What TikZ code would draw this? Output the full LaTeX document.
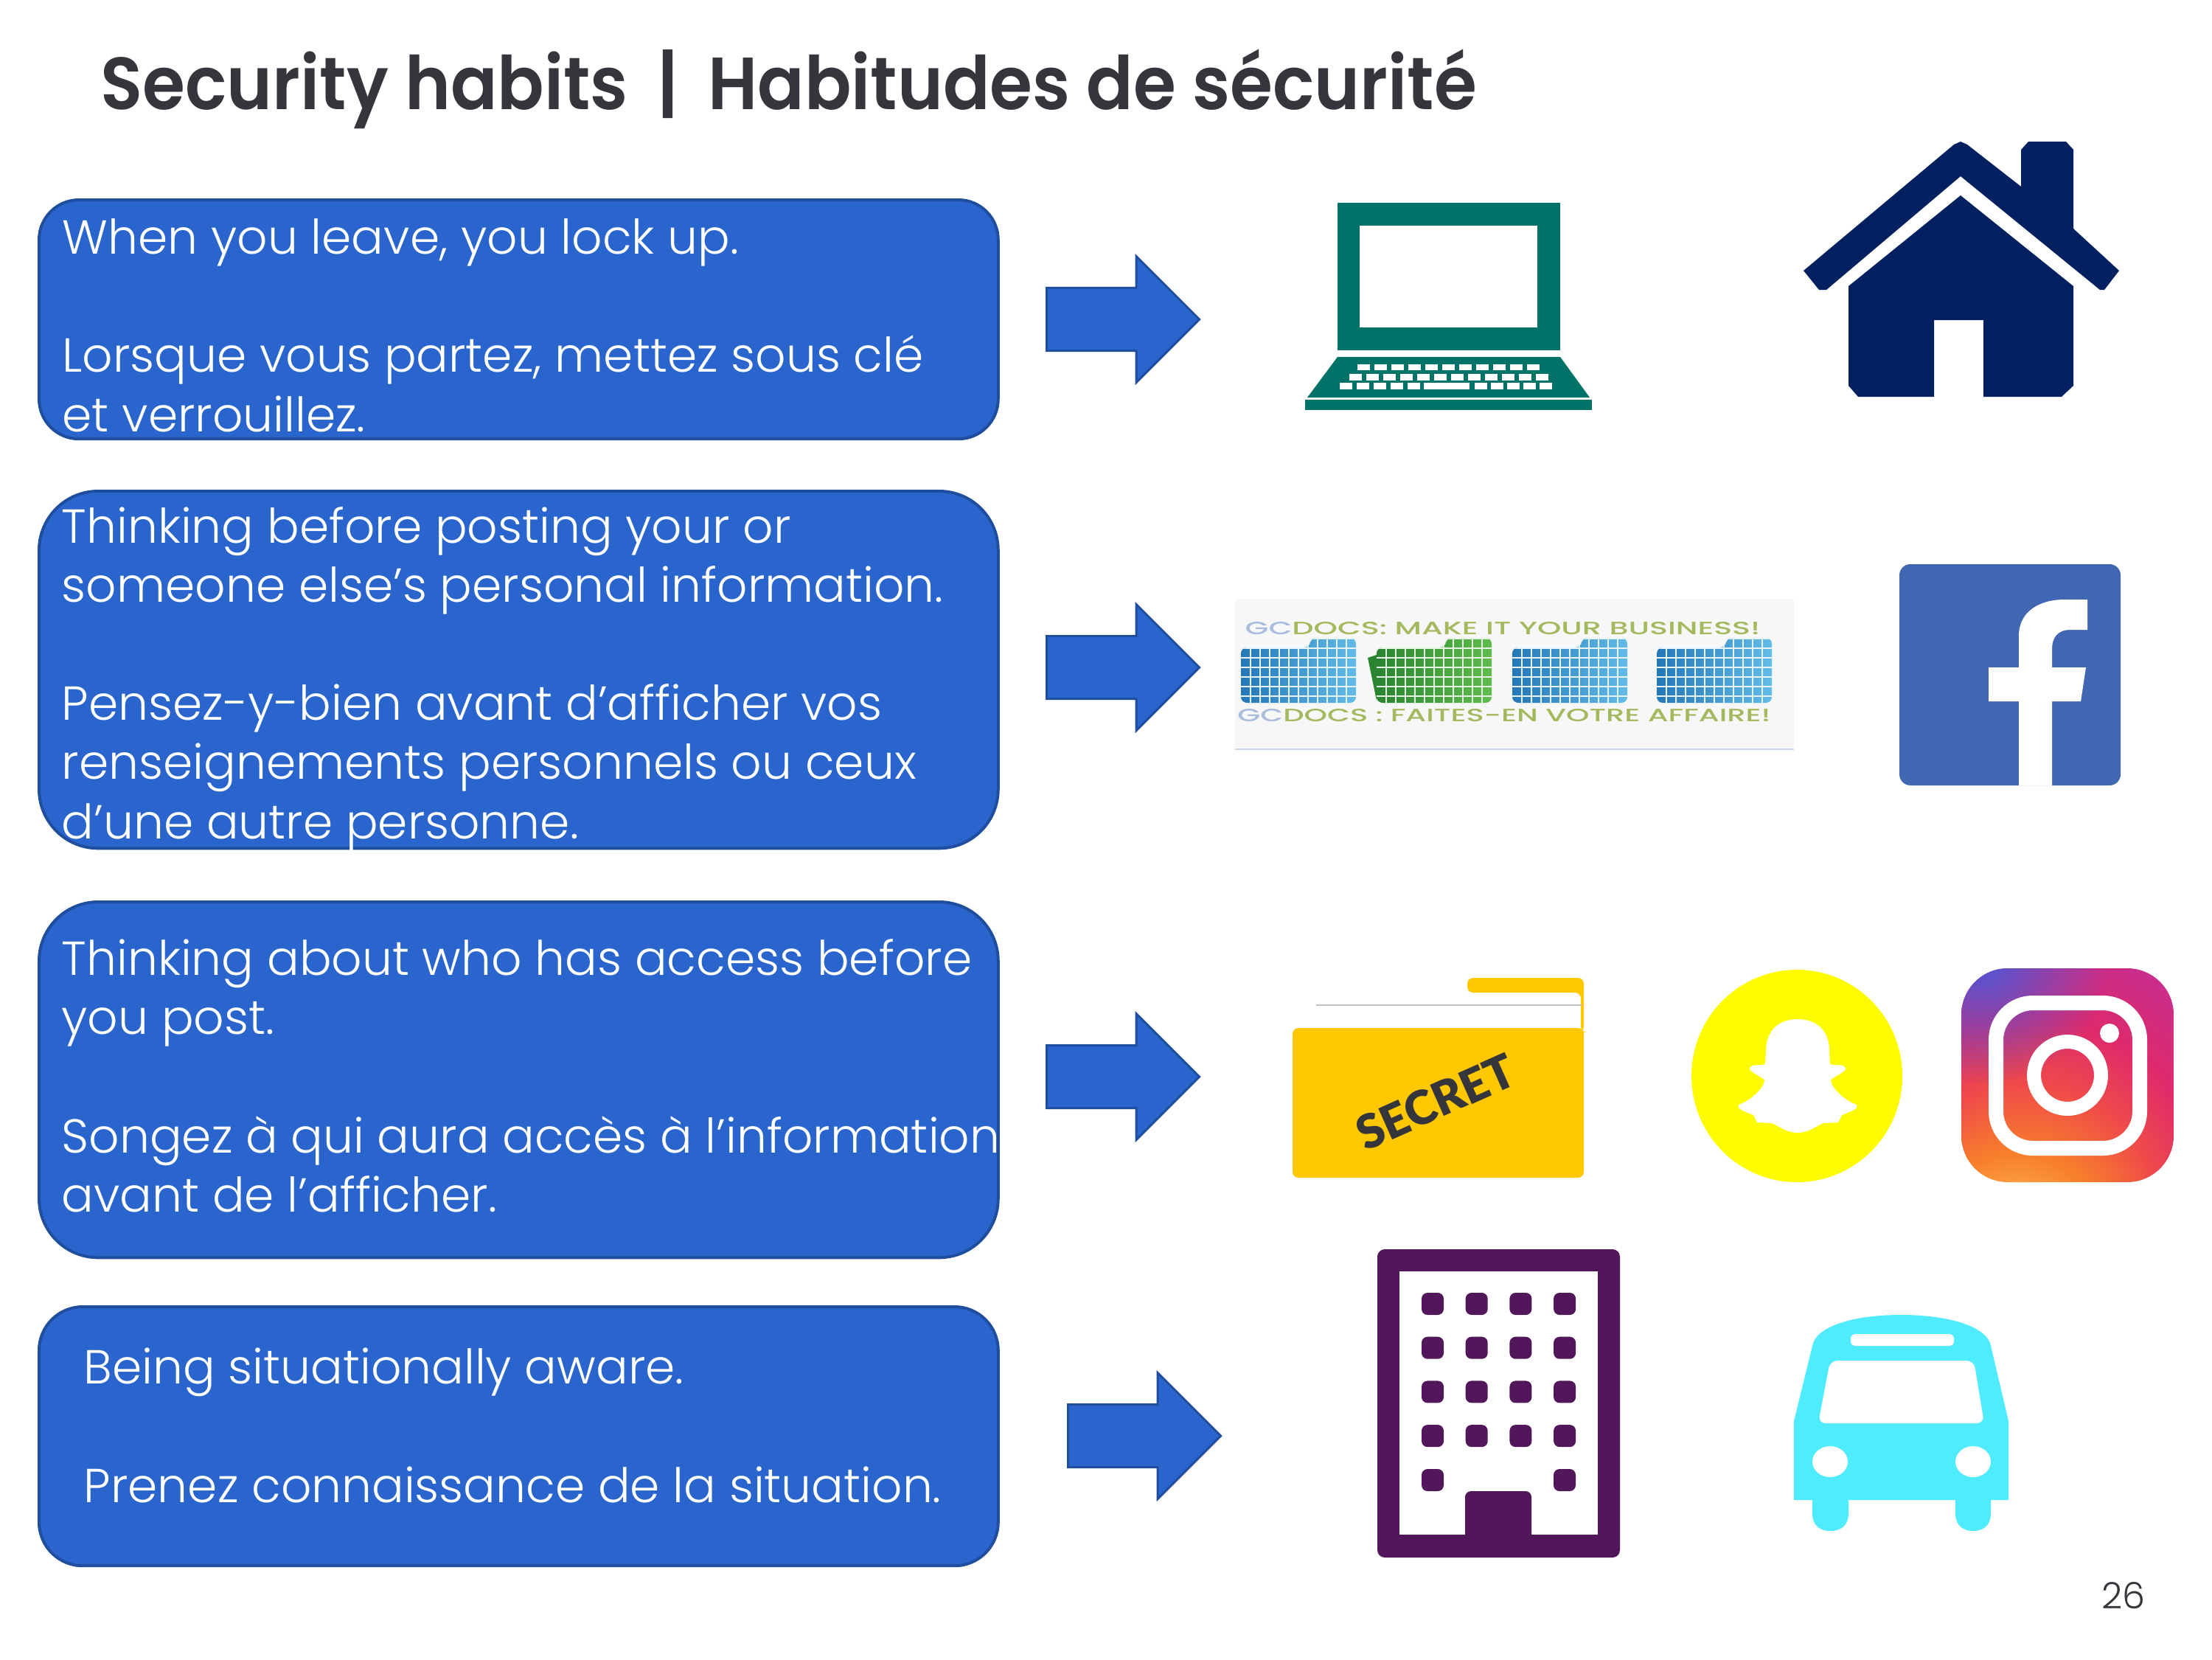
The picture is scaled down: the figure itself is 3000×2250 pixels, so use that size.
\documentclass[tikz,border=0pt]{standalone}
\usepackage{fontspec}
\setmainfont{Poppins Light}
\newfontfamily\titlefont{Poppins SemiBold}
\newfontfamily\secretfont{Lato Black}
\newfontfamily\logofont{Poppins Medium}
\usetikzlibrary{shapes.arrows,fadings}
\definecolor{bubblefill}{HTML}{2A65CE}
\definecolor{bubbleline}{HTML}{1F4E9E}
\definecolor{titlegrey}{HTML}{35353C}
\definecolor{laptopgreen}{HTML}{007368}
\definecolor{housenavy}{HTML}{00205F}
\definecolor{fbblue}{HTML}{4267B2}
\definecolor{foldergold}{HTML}{FFC800}
\definecolor{snapyellow}{HTML}{FFFC00}
\definecolor{buildingpurple}{HTML}{52175A}
\definecolor{busblue}{HTML}{4FEBFF}
\definecolor{logogreen}{HTML}{A3B95E}
\definecolor{logoblue}{HTML}{A9BCDC}
\definecolor{igone}{HTML}{FFD97A}
\definecolor{igtwo}{HTML}{FDB44E}
\definecolor{igthree}{HTML}{F8802A}
\definecolor{igfour}{HTML}{EF4A4A}
\definecolor{igfive}{HTML}{DE2A6C}
\definecolor{igsix}{HTML}{C72E90}
\definecolor{igseven}{HTML}{A22BAE}
\definecolor{igeight}{HTML}{7A30C0}
\definecolor{igblue}{HTML}{4A58D8}
\definecolor{tileblueA}{HTML}{2578B8}
\definecolor{tileblueB}{HTML}{62BBE8}
\definecolor{tilegreenA}{HTML}{2A8430}
\definecolor{tilegreenB}{HTML}{60BC4C}
\pgfdeclareradialshading{igshade}{\pgfpoint{-15bp}{-50bp}}{color(0bp)=(igone); color(12bp)=(igtwo); color(21bp)=(igthree); color(32bp)=(igfour); color(42bp)=(igfive); color(55bp)=(igsix); color(72bp)=(igseven); color(100bp)=(igeight)}
\tikzfading[name=igfade, inner color=transparent!0, outer color=transparent!100]
\tikzset{
	bubble/.style={draw=bubbleline, fill=bubblefill, line width=0.04cm, inner sep=0, minimum width=13cm},
	bubbletext/.style={anchor=base west, align=left, text=white, inner sep=0, font=\fontsize{18.4}{22.76}\selectfont},
	blockarrow/.style={single arrow, draw=bubbleline, fill=bubblefill, line width=0.03cm, inner sep=0, anchor=tail, minimum height=2.07cm, text height=0.82cm, text depth=0, single arrow head extend=0.43cm, single arrow head indent=0},
	logotext/.style={inner sep=0, text=logogreen, font=\logofont\fontsize{6.9}{8}\selectfont}
}
\def\gcfolder(#1)#2#3{
	\begin{scope}[shift={(#1)}]
		\begin{scope}
			\clip[rounded corners=0.08cm] (0, 13) -- (94, 13) -- (94, 0) -- (156, 0) -- (156, 88) -- (0, 88) -- cycle;
			\shade[left color=#2, right color=#3] (0, 0) rectangle (156, 88);
			\foreach \k in {1,...,11} \draw[white!85!#3, line width=0.012cm] (13*\k, 0) -- (13*\k, 88);
			\foreach \k in {0,...,6} \draw[white!85!#3, line width=0.012cm] (0, 1+13*\k) -- (156, 1+13*\k);
		\end{scope}
	\end{scope}
}
\begin{document}
\begin{tikzpicture}[x=0.01cm, y=-0.01cm]
	%%%%% START %%%%%
	\useasboundingbox (0, 0) rectangle (3000, 2250);
	
	\node[anchor=base west, inner sep=0, xscale=0.935, text=titlegrey, font=\titlefont\fontsize{28.5}{36}\selectfont] (title) at (136, 148) {Security habits\hspace{5.4pt} | \hspace{5.4pt}Habitudes de sécurité};
	
	\node[bubble, rounded corners=0.54cm, anchor=north west, minimum height=3.24cm] (leavebox) at (51, 269) {};
	\node[bubble, rounded corners=0.8cm, anchor=north west, minimum height=4.84cm] (postbox) at (51, 664) {};
	\node[bubble, rounded corners=0.8cm, anchor=north west, minimum height=4.82cm] (accessbox) at (51, 1221) {};
	\node[bubble, rounded corners=0.59cm, anchor=north west, minimum height=3.51cm] (awarebox) at (51, 1770) {};
	
	\node[bubbletext] (leavetext) at (84, 585) {When you leave, you lock up.\\~\\Lorsque vous partez, mettez sous clé\\et verrouillez.};
	\node[bubbletext] (posttext) at (83, 1137) {Thinking before posting your or\\someone else’s personal information.\\~\\Pensez-y-bien avant d’afficher vos\\renseignements personnels ou ceux\\d’une autre personne.};
	\node[bubbletext] (accesstext) at (83, 1643) {Thinking about who has access before\\you post.\\~\\Songez à qui aura accès à l’information\\avant de l’afficher.};
	\node[bubbletext] (awaretext) at (113, 2037) {Being situationally aware.\\~\\Prenez connaissance de la situation.};
	
	\node[blockarrow] (leavearrow) at (1418, 433) {};
	\node[blockarrow] (postarrow) at (1418, 905) {};
	\node[blockarrow] (accessarrow) at (1418, 1460) {};
	\node[blockarrow] (awarearrow) at (1447, 1947) {};
	
	% laptop
	\fill[laptopgreen] (1814, 275) rectangle (2116, 475);
	\fill[white] (1844, 306) rectangle (2085, 444);
	\fill[laptopgreen] (1814, 484) -- (2116, 484) -- (2156, 539) -- (1773, 539) -- cycle;
	\fill[laptopgreen] (1770, 542) rectangle (2159, 556);
	\foreach \k in {0,...,10} \fill[white] (1841+23*\k, 494) rectangle ++(17, 8);
	\foreach \k in {0,...,11} \fill[white] (1830+23*\k, 507) rectangle ++(17, 9);
	\foreach \k in {0,...,4} \fill[white] (1817+23*\k, 519) rectangle ++(17, 9);
	\fill[white] (1931, 519) rectangle (1993, 528);
	\foreach \k in {0,...,4} \fill[white] (2000+22*\k, 519) rectangle ++(17, 9);
	
	% house
	\fill[housenavy] (2446, 367) -- (2467, 393) -- (2477, 393) -- (2659, 239) -- (2848, 393) -- (2854, 393) -- (2874, 367) -- (2812, 310) -- (2812, 203) -- (2802, 192) -- (2751, 192) -- (2741, 203) -- (2741, 253) -- (2668, 196) -- (2659, 192) -- (2650, 196) -- cycle;
	\fill[housenavy] (2507, 388) -- (2659, 265) -- (2812, 388) -- (2812, 523) -- (2796, 538) -- (2690, 538) -- (2690, 434) -- (2623, 434) -- (2623, 538) -- (2520, 538) -- (2507, 523) -- cycle;
	
	% gcdocs banner
	\fill[black!3] (1675, 812) rectangle (2433, 1016);
	\draw[logoblue!60, line width=0.02cm] (1675, 1016) -- (2433, 1016);
	\node[logotext, xscale=1.7] (logoen) at (2038, 852) {\textcolor{logoblue}{GC}DOCS: MAKE IT YOUR BUSINESS!};
	\node[logotext, xscale=1.65] (logofr) at (2040, 970) {\textcolor{logoblue}{GC}DOCS : FAITES-EN VOTRE AFFAIRE!};
	\gcfolder(1683, 865){tileblueA}{tileblueB}
	\fill[tilegreenA] (1855, 892) -- (1867, 888) -- (1867, 950) -- cycle;
	\gcfolder(1867, 865){tilegreenA}{tilegreenB}
	\gcfolder(2051, 865){tileblueA}{tileblueB}
	\gcfolder(2247, 865){tileblueA}{tileblueB}
	
	% facebook
	\fill[fbblue, rounded corners=0.15cm] (2576, 765) rectangle (2876, 1065);
	\fill[white] (2738, 1065) -- (2738, 951) -- (2697, 951) -- (2697, 905) -- (2738, 905) -- (2738, 862) .. controls (2738, 830) and (2765, 813) .. (2800, 813) -- (2831, 813) -- (2831, 854) -- (2808, 854) .. controls (2790, 854) and (2783, 865) .. (2783, 880) -- (2783, 905) -- (2829, 905) -- (2822, 951) -- (2783, 951) -- (2783, 1065) -- cycle;
	
	% secret folder
	\fill[foldergold, rounded corners=0.08cm] (1990, 1346) -- (1990, 1326) -- (2148, 1326) -- (2148, 1400) -- (2144, 1400) -- (2144, 1346) -- cycle;
	\draw[black!25, line width=0.015cm] (1785, 1363) -- (2145, 1363);
	\fill[foldergold, rounded corners=0.08cm] (1753, 1394) rectangle (2148, 1597);
	\node[rotate=24, inner sep=0, text=titlegrey, font=\secretfont\fontsize{18}{22}\selectfont] (secret) at (1947, 1494) {SECRET};
	
	% snapchat
	\fill[snapyellow] (2437, 1459) circle [x radius=143, y radius=144];
	\fill[white] (2438, 1382) .. controls (2412, 1382) and (2395, 1398) .. (2395, 1425) -- (2394, 1443) .. controls (2385, 1446) and (2376, 1442) .. (2373, 1448) .. controls (2372, 1453) and (2385, 1458) .. (2393, 1464) .. controls (2393, 1475) and (2375, 1492) .. (2358, 1498) .. controls (2356, 1503) and (2360, 1505) .. (2378, 1512) -- (2383, 1522) -- (2403, 1523) .. controls (2412, 1526) and (2422, 1536) .. (2438, 1536) .. controls (2454, 1536) and (2464, 1526) .. (2473, 1523) -- (2493, 1522) -- (2498, 1512) .. controls (2516, 1505) and (2520, 1503) .. (2518, 1498) .. controls (2501, 1492) and (2483, 1475) .. (2483, 1464) .. controls (2491, 1458) and (2504, 1453) .. (2503, 1448) .. controls (2500, 1442) and (2491, 1446) .. (2482, 1443) -- (2481, 1425) .. controls (2481, 1398) and (2464, 1382) .. (2438, 1382) -- cycle;
	
	% instagram
	\begin{scope}
		\clip[rounded corners=0.63cm] (2660, 1313) rectangle (2948, 1603);
		\shade[shading=igshade] (2660, 1313) rectangle (2948, 1603);
		\fill[igblue, path fading=igfade] (2690, 1300) circle (170);
	\end{scope}
	\draw[white, line width=0.2cm, rounded corners=0.5cm] (2707, 1360) rectangle (2902, 1557);
	\draw[white, line width=0.19cm] (2804, 1458) circle (45.5);
	\fill[white] (2861, 1401) circle (13);
	
	% building
	\fill[buildingpurple, rounded corners=0.1cm] (1868, 1694) rectangle (2197, 2112);
	\fill[white] (1898, 1724) rectangle (2167, 2081);
	\foreach \row in {0,...,3} \foreach \col in {0,...,3} \fill[buildingpurple, rounded corners=0.08cm] (1928+59.7*\col, 1753+59.7*\row) rectangle ++(30, 30);
	\fill[buildingpurple, rounded corners=0.08cm] (1928, 1992) rectangle ++(30, 30);
	\fill[buildingpurple, rounded corners=0.08cm] (2107, 1992) rectangle ++(30, 30);
	\fill[buildingpurple, rounded corners=0.08cm] (1987, 2100) -- (1987, 2022) -- (2077, 2022) -- (2077, 2100) -- cycle;
	
	% bus
	\fill[busblue] (2433, 2034) -- (2433, 1927) -- (2458, 1825) .. controls (2462, 1800) and (2510, 1783) .. (2578, 1783) .. controls (2646, 1783) and (2696, 1800) .. (2700, 1825) -- (2724, 1927) -- (2724, 2034) -- cycle;
	\fill[busblue] (2458, 2030) -- (2507, 2030) -- (2507, 2052) .. controls (2507, 2070) and (2495, 2076) .. (2482, 2076) .. controls (2470, 2076) and (2458, 2070) .. (2458, 2052) -- cycle;
	\fill[busblue] (2652, 2030) -- (2700, 2030) -- (2700, 2052) .. controls (2700, 2070) and (2688, 2076) .. (2676, 2076) .. controls (2664, 2076) and (2652, 2070) .. (2652, 2052) -- cycle;
	\fill[white, rounded corners=0.06cm] (2510, 1809) rectangle (2650, 1825);
	\fill[white, rounded corners=0.1cm] (2482, 1845) -- (2677, 1845) -- (2691, 1930) -- (2466, 1930) -- cycle;
	\fill[white] (2482, 1982) circle [x radius=24, y radius=21];
	\fill[white] (2676, 1982) circle [x radius=24, y radius=21];
	
	\node[anchor=base east, inner sep=0, text=titlegrey, font=\fontsize{14}{18}\selectfont] (pagenum) at (2910, 2181) {26};
	%%%%% END %%%%%
\end{tikzpicture}
\end{document}
